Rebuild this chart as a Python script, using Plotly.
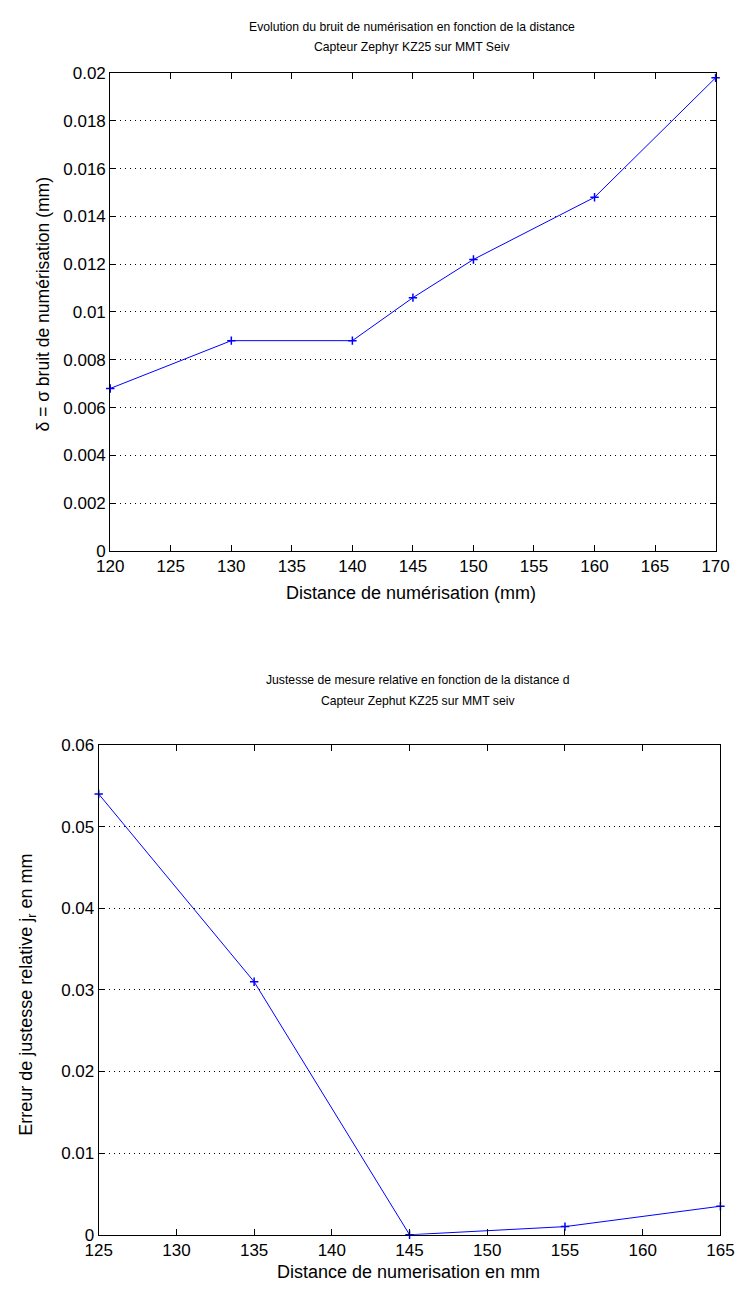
import plotly.graph_objects as go

# Top chart data
dist_top = [120, 130, 140, 145, 150, 160, 170]
bruit = [0.0068, 0.0088, 0.0088, 0.0106, 0.0122, 0.0148, 0.0198]
xticks_top = [120, 125, 130, 135, 140, 145, 150, 155, 160, 165, 170]
yticks_top = [0, 0.002, 0.004, 0.006, 0.008, 0.01, 0.012, 0.014, 0.016, 0.018, 0.02]
yticklabels_top = ["0", "0.002", "0.004", "0.006", "0.008", "0.01", "0.012", "0.014", "0.016", "0.018", "0.02"]

# Bottom chart data
dist_bot = [125, 135, 145, 155, 165]
justesse = [0.054, 0.031, 0.0, 0.001, 0.0035]
xticks_bot = [125, 130, 135, 140, 145, 150, 155, 160, 165]
yticks_bot = [0, 0.01, 0.02, 0.03, 0.04, 0.05, 0.06]
yticklabels_bot = ["0", "0.01", "0.02", "0.03", "0.04", "0.05", "0.06"]

FONT = "Liberation Sans Narrow, Arial Narrow, Liberation Sans, sans-serif"
W, H = 745, 1297


def px_x(p):
    return p / W


def px_y(p):
    return 1 - p / H


fig = go.Figure()
fig.add_trace(go.Scatter(x=dist_top, y=bruit, mode="lines+markers",
                         line=dict(color="#0000ff", width=1),
                         marker=dict(symbol="cross-thin", size=6, color="#0000ff",
                                     line=dict(color="#0000ff", width=1.5)),
                         cliponaxis=False, xaxis="x", yaxis="y", showlegend=False))
fig.add_trace(go.Scatter(x=dist_bot, y=justesse, mode="lines+markers",
                         line=dict(color="#0000ff", width=1),
                         marker=dict(symbol="cross-thin", size=6, color="#0000ff",
                                     line=dict(color="#0000ff", width=1.5)),
                         cliponaxis=False, xaxis="x2", yaxis="y2", showlegend=False))

axis_common = dict(showline=True, linecolor="black", linewidth=1, mirror="ticks",
                   ticks="inside", ticklen=6, tickcolor="black",
                   tickfont=dict(family=FONT, size=17, color="black"),
                   zeroline=False, fixedrange=True)

grid = dict(showgrid=True, gridcolor="black", griddash="1px,4px", gridwidth=1)

fig.update_layout(
    width=W, height=H,
    margin=dict(l=0, r=0, t=0, b=0),
    paper_bgcolor="white", plot_bgcolor="white",
    hovermode=False,
    font=dict(family=FONT, size=13, color="black"),
    xaxis=dict(domain=[px_x(100), px_x(729)], range=[120, 170], tickvals=xticks_top,
               showgrid=False, anchor="y", **axis_common),
    yaxis=dict(domain=[px_y(550), px_y(65)], range=[0, 0.02], tickvals=yticks_top,
               ticktext=yticklabels_top, anchor="x", **grid, **axis_common),
    xaxis2=dict(domain=[px_x(88), px_x(734)], range=[125, 165], tickvals=xticks_bot,
                showgrid=False, anchor="y2", **axis_common),
    yaxis2=dict(domain=[px_y(1244), px_y(747)], range=[0, 0.06], tickvals=yticks_bot,
                ticktext=yticklabels_bot, anchor="x2", **grid, **axis_common),
)

ann = []


def label(text, x, y, angle=0, size=13):
    ann.append(dict(text=text, x=px_x(x), y=px_y(y), xref="paper", yref="paper",
                    showarrow=False, textangle=angle, xanchor="center", yanchor="middle",
                    font=dict(family=FONT, size=size, color="black")))


label("Evolution du bruit de numérisation en fonction de la distance", 414, 18, size=12.2)
label("Capteur Zephyr KZ25 sur MMT Seiv", 414, 39, size=12.2)
label("Distance de numérisation (mm)", 413, 593, size=18)
label("δ = σ bruit de numérisation (mm)", 30, 300, angle=-90, size=17.5)

label("Justesse de mesure relative en fonction de la distance d", 420, 681, size=12.2)
label("Capteur Zephut KZ25 sur MMT seiv", 420, 702, size=12.2)
label("Distance de numerisation en mm", 410, 1282, size=18)
label("Erreur de justesse relative j<sub>r</sub> en mm", 14, 1000, angle=-90, size=18)

fig.update_layout(annotations=ann)
fig.write_html("out.html",
               config={"displayModeBar": False, "staticPlot": True},
               post_script="document.body.style.margin='0';document.documentElement.style.overflow='hidden';")
